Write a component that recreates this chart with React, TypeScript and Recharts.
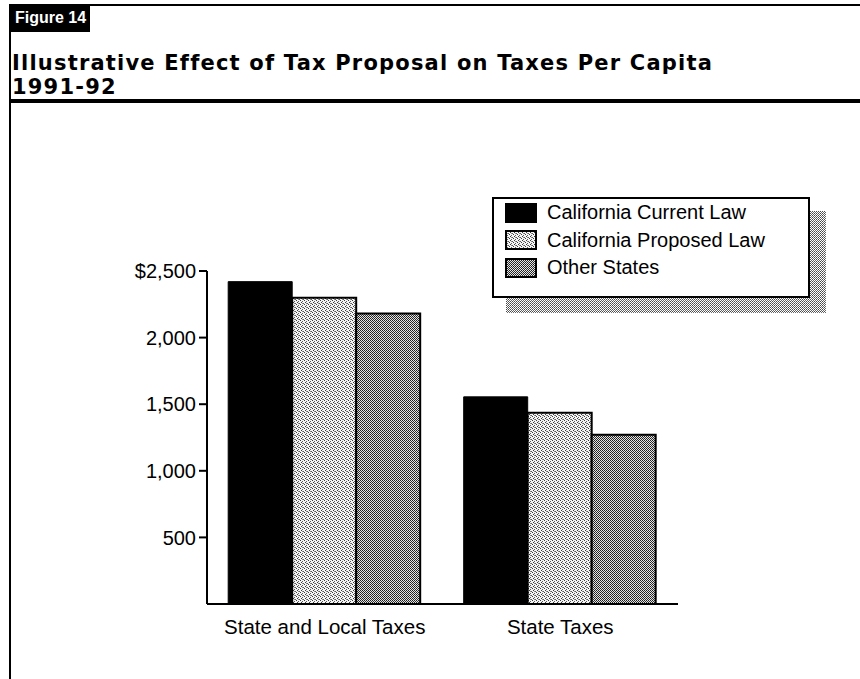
import { BarChart, Bar, XAxis, YAxis } from "recharts";

// values (dollars per capita, 1991-92)
const categories = ["State and Local Taxes", "State Taxes"];
const currentLaw = [2420, 1555];
const proposedLaw = [2300, 1435];
const otherStates = [2180, 1270];

const seriesNames = [
  "California Current Law",
  "California Proposed Law",
  "Other States",
];
const yTicks = [500, 1000, 1500, 2000, 2500];

const font = "'Liberation Sans', Arial, Helvetica, sans-serif";
const titleFont = "'DejaVu Sans', 'Liberation Sans', Arial, sans-serif";

const data = categories.map((name, i) => ({
  name,
  current: currentLaw[i],
  proposed: proposedLaw[i],
  other: otherStates[i],
}));

const fills = ["#000", "url(#patLight)", "url(#patDark)"];

function Patterns() {
  return (
    <svg width={0} height={0} style={{ position: "absolute" }}>
      <defs>
        {/* light halftone */}
        <pattern id="patLight" width={4} height={4} patternUnits="userSpaceOnUse">
          <rect width={4} height={4} fill="#f4f4f4" />
          <rect x={0} y={0} width={1} height={1} fill="#3a3a3a" />
          <rect x={2} y={1} width={1} height={1} fill="#5a5a5a" />
          <rect x={1} y={2} width={1} height={1} fill="#3a3a3a" />
          <rect x={3} y={3} width={1} height={1} fill="#5a5a5a" />
          <rect x={2} y={3} width={1} height={1} fill="#8a8a8a" />
        </pattern>
        {/* dark halftone */}
        <pattern id="patDark" width={2} height={2} patternUnits="userSpaceOnUse">
          <rect width={2} height={2} fill="#e4e4e4" />
          <rect x={0} y={0} width={1} height={1} fill="#1e1e1e" />
          <rect x={1} y={1} width={1} height={1} fill="#2e2e2e" />
        </pattern>
        <pattern id="patShadow" width={2} height={2} patternUnits="userSpaceOnUse">
          <rect width={2} height={2} fill="#ffffff" />
          <rect x={0} y={0} width={1} height={1} fill="#4a4a4a" />
          <rect x={1} y={1} width={1} height={1} fill="#6a6a6a" />
        </pattern>
      </defs>
    </svg>
  );
}

function LegendBox() {
  return (
    <div style={{ position: "absolute", left: 492, top: 197 }}>
      {/* drop shadow */}
      <svg
        width={320}
        height={102}
        style={{ position: "absolute", left: 14, top: 14 }}
      >
        <rect width={320} height={102} fill="url(#patShadow)" />
      </svg>
      <div
        style={{
          position: "absolute",
          left: 0,
          top: 0,
          width: 314,
          height: 97,
          border: "2px solid #000",
          background: "#fff",
        }}
      >
        {seriesNames.map((s, i) => (
          <div
            key={s}
            style={{
              position: "absolute",
              left: 11,
              top: 3 + i * 27.5,
              display: "flex",
              alignItems: "center",
              height: 21,
            }}
          >
            <svg width={32} height={20}>
              <rect
                x={1}
                y={1}
                width={30}
                height={18}
                fill={fills[i]}
                stroke="#000"
                strokeWidth={2}
              />
            </svg>
            <span
              style={{
                marginLeft: 10,
                fontFamily: font,
                fontSize: 20,
                lineHeight: "21px",
                color: "#000",
                whiteSpace: "nowrap",
              }}
            >
              {s}
            </span>
          </div>
        ))}
      </div>
    </div>
  );
}

export default function App() {
  return (
    <div
      style={{
        position: "absolute",
        left: 0,
        top: 0,
        width: 860,
        height: 679,
        background: "#fff",
        overflow: "hidden",
        fontFamily: font,
      }}
    >
      <Patterns />

      {/* frame lines */}
      <div style={{ position: "absolute", left: 9, top: 4, width: 851, height: 2, background: "#000" }} />
      <div style={{ position: "absolute", left: 9, top: 4, width: 2, height: 675, background: "#000" }} />
      <div style={{ position: "absolute", left: 9, top: 99, width: 851, height: 4, background: "#000" }} />

      {/* figure tag */}
      <div
        style={{
          position: "absolute",
          left: 9,
          top: 4,
          width: 81,
          height: 28,
          background: "#000",
          color: "#fff",
          fontWeight: "bold",
          fontSize: 16,
          lineHeight: "28px",
          paddingLeft: 6,
          boxSizing: "border-box",
          whiteSpace: "nowrap",
        }}
      >
        Figure 14
      </div>

      {/* title */}
      <div
        style={{
          position: "absolute",
          left: 12,
          top: 51,
          fontFamily: titleFont,
          fontWeight: "bold",
          fontSize: 21,
          lineHeight: "24px",
          letterSpacing: 1.2,
          color: "#000",
          whiteSpace: "nowrap",
        }}
      >
        <div>Illustrative Effect of Tax Proposal on Taxes Per Capita</div>
        <div>1991-92</div>
      </div>

      <div style={{ position: "absolute", left: 0, top: 0 }}>
        <BarChart
          width={860}
          height={679}
          data={data}
          margin={{ top: 271, right: 182, bottom: 35, left: 117 }}
          barCategoryGap="9%"
          barGap={0}
        >
          <XAxis
            dataKey="name"
            height={40}
            interval={0}
            axisLine={{ stroke: "#000", strokeWidth: 2 }}
            tickLine={false}
            tickSize={6}
            tickMargin={9}
            tick={{ fill: "#000", fontSize: 20.5, fontFamily: font }}
          />
          <YAxis
            width={90}
            domain={[0, 2500]}
            ticks={yTicks}
            interval={0}
            axisLine={{ stroke: "#000", strokeWidth: 2 }}
            tickLine={{ stroke: "#000", strokeWidth: 2 }}
            tickSize={8}
            tickMargin={3}
            tick={{ fill: "#000", fontSize: 20, fontFamily: font }}
            tickFormatter={(v: number) =>
              v === 2500 ? "$2,500" : v.toLocaleString("en-US")
            }
          />
          <Bar dataKey="current" name={seriesNames[0]} fill={fills[0]} stroke="#000" strokeWidth={1} isAnimationActive={false} />
          <Bar dataKey="proposed" name={seriesNames[1]} fill={fills[1]} stroke="#000" strokeWidth={2} isAnimationActive={false} />
          <Bar dataKey="other" name={seriesNames[2]} fill={fills[2]} stroke="#000" strokeWidth={2} isAnimationActive={false} />
        </BarChart>
      </div>

      <LegendBox />
    </div>
  );
}
